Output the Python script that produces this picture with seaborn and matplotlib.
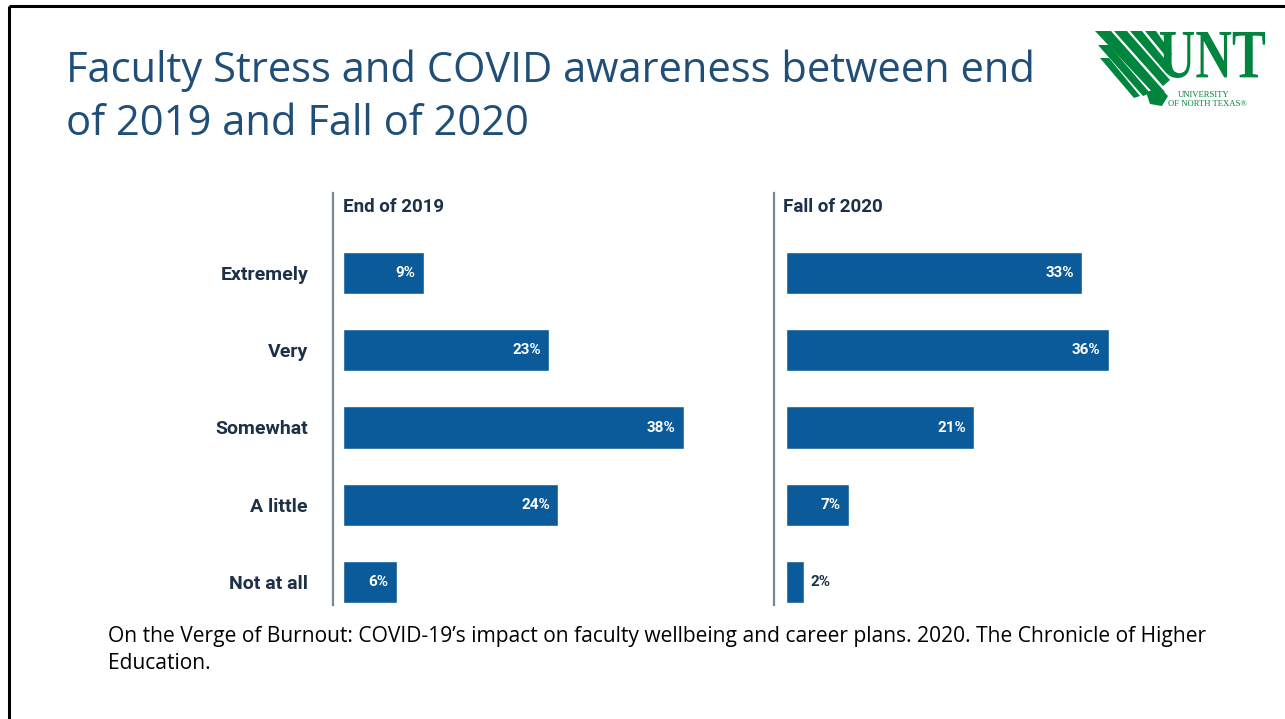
import matplotlib
matplotlib.use("Agg")
import matplotlib.pyplot as plt
import seaborn as sns
import pandas as pd
from matplotlib.patches import Polygon, PathPatch
from matplotlib.textpath import TextPath
from matplotlib.font_manager import FontProperties
from matplotlib.transforms import Affine2D

# ---- data ----
levels = ["Extremely", "Very", "Somewhat", "A little", "Not at all"]
end_2019 = [9, 23, 38, 24, 6]
fall_2020 = [33, 36, 21, 7, 2]
panel_titles = ["End of 2019", "Fall of 2020"]

title = "Faculty Stress and COVID awareness between end\nof 2019 and Fall of 2020"
source = ("On the Verge of Burnout: COVID-19\u2019s impact on faculty wellbeing and career plans. 2020. The Chronicle of Higher\n"
          "Education.")

sns.set_theme(style="white")
plt.rcParams["font.family"] = ["Roboto", "DejaVu Sans"]

W, H = 1285, 719
fig = plt.figure(figsize=(W / 100, H / 100), dpi=100)
fig.patch.set_facecolor("white")

BAR = "#0b5a99"
NAVY = "#1c3047"
SPINE = "#76889a"
TITLE_C = "#1f4e79"
GREEN = "#00853e"

PX_PER_PCT = 8.97
PT = 72 / 100  # points per pixel at dpi 100


def px_axes(x0, y0, x1, y1):
    return fig.add_axes([x0 / W, 1 - y1 / H, (x1 - x0) / W, (y1 - y0) / H])


def draw_panel(ax, values, header, spine_off_px, show_labels):
    df = pd.DataFrame({"level": levels, "pct": values})
    sns.barplot(data=df, y="level", x="pct", orient="h", color=BAR,
                width=0.545, saturation=1, ax=ax)
    width_px = ax.get_position().width * W
    ax.set_xlim(0, width_px / PX_PER_PCT)
    # categories spaced 77.25 px; axes top/bottom chosen around them
    ax.set_ylim(4 + 23 / 77.25, -80 / 77.25)
    for s in ["top", "right", "bottom"]:
        ax.spines[s].set_visible(False)
    ax.spines["left"].set_position(("outward", spine_off_px * PT))
    ax.spines["left"].set_color(SPINE)
    ax.spines["left"].set_linewidth(1.6)
    ax.set_xticks([])
    ax.set_xlabel("")
    ax.set_ylabel("")
    ax.tick_params(axis="y", length=0, pad=25 * PT)
    if show_labels:
        ax.set_yticks(range(len(levels)))
        ax.set_yticklabels(levels, fontsize=14, fontweight="bold", color=NAVY)
    else:
        ax.set_yticks([])
    ax.set_facecolor("none")
    for patch, v in zip(ax.patches, values):
        yc = patch.get_y() + patch.get_height() / 2
        xe = patch.get_x() + patch.get_width()
        if v >= 4:
            ax.annotate(f"{v}%", (xe, yc), xytext=(-6, 0), textcoords="offset points",
                        ha="right", va="center", color="white", fontsize=11,
                        fontweight="bold")
        else:
            ax.annotate(f"{v}%", (xe, yc), xytext=(5, 0), textcoords="offset points",
                        ha="left", va="center", color=NAVY, fontsize=11,
                        fontweight="bold")
    ax.text(0, -0.86, header, transform=ax.transData, ha="left", va="center",
            fontsize=13.5, fontweight="bold", color=NAVY)


ax1 = px_axes(343, 193, 720, 605)
draw_panel(ax1, end_2019, panel_titles[0], 10, True)
ax2 = px_axes(786, 193, 1200, 605)
draw_panel(ax2, fall_2020, panel_titles[1], 12, False)
ax2.texts[-1].set_x(-3 / PX_PER_PCT)

# ---- slide decoration layer ----
deco = fig.add_axes([0, 0, 1, 1], zorder=-1)
deco.set_xlim(0, W)
deco.set_ylim(H, 0)
deco.axis("off")
deco.plot([9, 9], [6, H], color="black", lw=2.2, solid_capstyle="butt")
deco.plot([9, W], [6, 6], color="black", lw=2.2, solid_capstyle="butt")

fig.text(66 / W, 1 - 49 / H, title, ha="left", va="top", fontsize=30,
         color=TITLE_C, family=["Open Sans", "DejaVu Sans"], linespacing=1.36)
fig.text(108 / W, 1 - 626 / H, source, ha="left", va="top", fontsize=15.1,
         color="black", family=["Open Sans", "DejaVu Sans"], linespacing=1.38)

# logo: wing strokes
logo = fig.add_axes([0, 0, 1, 1], zorder=2)
logo.set_xlim(0, W)
logo.set_ylim(H, 0)
logo.axis("off")
wings = [
    [(1095, 31), (1111, 31), (1165, 92), (1156, 96)],
    [(1098, 45), (1109, 45), (1150, 93), (1143, 96)],
    [(1100, 58), (1109, 58), (1140, 96), (1134, 98)],
    [(1114, 31), (1127, 31), (1170, 80), (1163, 86)],
    [(1130, 31), (1142, 31), (1172, 68), (1167, 74)],
    [(1145, 31), (1156, 31), (1172, 54), (1168, 59)],
]
for w in wings:
    logo.add_patch(Polygon(w, closed=True, color=GREEN, lw=0))
logo.add_patch(Polygon([(1146, 92), (1160, 88), (1168, 96), (1162, 106), (1150, 104)],
                       closed=True, color=GREEN, lw=0))

fp = FontProperties(family="Liberation Serif", weight="bold")
tp = TextPath((0, 0), "UNT", size=60, prop=fp)
ext = tp.get_extents()
sx = (1265 - 1160) / ext.width
sy = (78 - 32) / ext.height
tr = Affine2D().translate(-ext.x0, -ext.y0).scale(sx, -sy).translate(1160, 78)
logo.add_patch(PathPatch(tr.transform_path(tp), color=GREEN, lw=0))
logo.text(1204, 95, "UNIVERSITY", ha="center", va="center", fontsize=6.2,
          color=GREEN, family=["Liberation Serif", "DejaVu Serif"])
logo.text(1207, 104, "OF NORTH TEXAS\u00ae", ha="center", va="center", fontsize=6.2,
          color=GREEN, family=["Liberation Serif", "DejaVu Serif"])

fig.savefig("out.png", dpi=100, facecolor="white")
